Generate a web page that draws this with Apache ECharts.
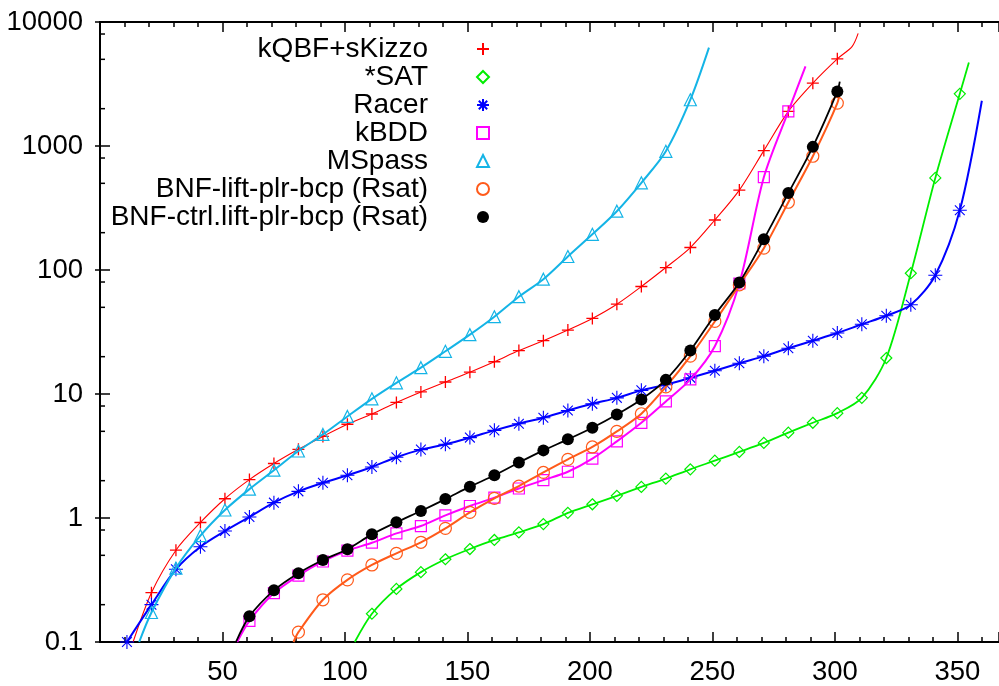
<!DOCTYPE html>
<html><head><meta charset="utf-8">
<script src="https://cdn.jsdelivr.net/npm/echarts@6/dist/echarts.min.js"></script>
<style>html,body{margin:0;padding:0;background:#fff}#c{width:999px;height:686px}</style>
</head><body><div id="c"></div>
<script>
// ---- data ----
const seriesNames = ['kQBF+sKizzo', '*SAT', 'Racer', 'kBDD', 'MSpass', 'BNF-lift-plr-bcp (Rsat)', 'BNF-ctrl.lift-plr-bcp (Rsat)'];
const xTickLabels = [50, 100, 150, 200, 250, 300, 350];
const yTickLabels = [0.1, 1, 10, 100, 1000, 10000];
const yMinorTicks = [0.2, 0.5, 0.8, 2, 5, 8, 20, 50, 80, 200, 500, 800, 2000, 5000, 8000];

const kqbfMarkX = [21,31,41,51,61,71,81,91,101,111,121,131,141,151,161,171,181,191,201,211,221,231,241,251,261,271,281,291,301];
const kqbfMarkY = [0.25,0.55,0.92,1.43,2.04,2.75,3.58,4.55,5.7,6.9,8.55,10.4,12.5,15.0,18.2,22.4,26.9,32.8,40.7,53,73.6,104.7,151.8,253,441,918,1902,3212,5043];
const kqbfExtraX = [13.5, 307, 309.5];
const kqbfExtraY = [0.1, 6340, 8100];

const satMarkX = [111,121,131,141,151,161,171,181,191,201,211,221,231,241,251,261,271,281,291,301,311,321,331,341,351];
const satMarkY = [0.169,0.268,0.366,0.465,0.562,0.665,0.766,0.893,1.10,1.29,1.51,1.78,2.08,2.47,2.9,3.41,4.03,4.88,5.86,7.01,9.31,19.5,94.2,553,2636];
const satExtraX = [104, 354.7];
const satExtraY = [0.1, 4710];

const racerMarkX = [11,21,31,41,51,61,71,81,91,101,111,121,131,141,151,161,171,181,191,201,211,221,231,241,251,261,271,281,291,301,311,321,331,341,351];
const racerMarkY = [0.1,0.2,0.386,0.587,0.785,1.02,1.33,1.64,1.92,2.21,2.58,3.09,3.56,3.93,4.45,5.09,5.76,6.44,7.37,8.33,9.31,10.7,11.9,13.5,15.4,17.7,20.2,23.4,26.9,31.0,36.5,42.8,52.4,90.8,303];
const racerExtraX = [360];
const racerExtraY = [2317];

const kbddMarkX = [61,71,81,91,101,111,121,131,141,151,161,171,181,191,201,211,221,231,241,251,261,271,281];
const kbddMarkY = [0.148,0.248,0.343,0.446,0.546,0.632,0.751,0.861,1.05,1.25,1.46,1.73,2.02,2.36,3.01,4.15,5.86,8.71,13.1,24.3,77.8,560,1902];
const kbddExtraX = [56, 288];
const kbddExtraY = [0.1, 4380];

const mspassMarkX = [21,31,41,51,61,71,81,91,101,111,121,131,141,151,161,171,181,191,201,211,221,231,241];
const mspassMarkY = [0.173,0.394,0.72,1.16,1.71,2.43,3.47,4.72,6.59,9.14,12.3,16.3,22.1,30.1,42.0,60.9,84.3,128.5,194,298,505,906,2361];
const mspassExtraX = [16, 248.6];
const mspassExtraY = [0.1, 6210];

const liftMarkX = [81,91,101,111,121,131,141,151,161,171,181,191,201,211,221,231,241,251,261,271,281,291,301];
const liftMarkY = [0.12,0.219,0.317,0.418,0.519,0.637,0.825,1.11,1.44,1.81,2.33,2.97,3.74,4.99,6.93,11.4,20.2,38.5,75.8,150,352,827,2218];
const liftExtraX = [79, 302];
const liftExtraY = [0.1, 2800];

const ctrlMarkX = [61,71,81,91,101,111,121,131,141,151,161,171,181,191,201,211,221,231,241,251,261,271,281,291,301];
const ctrlMarkY = [0.161,0.261,0.359,0.459,0.560,0.738,0.925,1.14,1.42,1.79,2.21,2.80,3.51,4.31,5.35,6.84,9.04,13.0,22.4,43.4,79.2,177,417,984,2755];
const ctrlExtraX = [55.5, 302];
const ctrlExtraY = [0.1, 3310];

// ---- build ----
function build(mx, my, ex, ey) {
  const pts = [];
  mx.forEach((x, i) => pts.push({ value: [x, my[i]] }));
  ex.forEach((x, i) => pts.push({ value: [x, ey[i]], symbol: 'none' }));
  pts.sort((a, b) => a.value[0] - b.value[0]);
  return pts;
}
const FONT = 'Liberation Sans, Arial, sans-serif';
const T = 'rgba(0,0,0,0)';
const plusPath = 'path://M0,5H10M5,0V10';
const starPath = 'path://M0,5H10M5,0V10M1.5,1.5L8.5,8.5M8.5,1.5L1.5,8.5';

const styles = [
  { color: '#ff0000', lw: 1.1, symbol: plusPath, size: 12, hollow: true, bw: 1.3 },
  { color: '#00ee00', lw: 1.8, symbol: 'diamond', size: 11, hollow: true, bw: 1.2 },
  { color: '#0000ff', lw: 2, symbol: starPath, size: 14, hollow: true, bw: 1.1 },
  { color: '#ff00ff', lw: 2, symbol: 'rect', size: 11, hollow: true, bw: 1.2 },
  { color: '#14b4e6', lw: 2, symbol: 'triangle', size: 12, hollow: true, bw: 1.2 },
  { color: '#ff5a1a', lw: 2, symbol: 'circle', size: 12, hollow: true, bw: 1.2 },
  { color: '#000000', lw: 1.8, symbol: 'circle', size: 12, hollow: false, bw: 0 }
];
const datasets = [
  build(kqbfMarkX, kqbfMarkY, kqbfExtraX, kqbfExtraY),
  build(satMarkX, satMarkY, satExtraX, satExtraY),
  build(racerMarkX, racerMarkY, racerExtraX, racerExtraY),
  build(kbddMarkX, kbddMarkY, kbddExtraX, kbddExtraY),
  build(mspassMarkX, mspassMarkY, mspassExtraX, mspassExtraY),
  build(liftMarkX, liftMarkY, liftExtraX, liftExtraY),
  build(ctrlMarkX, ctrlMarkY, ctrlExtraX, ctrlExtraY)
];

const series = seriesNames.map((name, i) => {
  const s = styles[i];
  return {
    name, type: 'line', data: datasets[i], xAxisIndex: 0, yAxisIndex: 0,
    smooth: 0.3,
    symbol: s.symbol, symbolSize: s.size, showAllSymbol: true,
    lineStyle: { color: s.color, width: s.lw },
    itemStyle: s.hollow ? { color: T, borderColor: s.color, borderWidth: s.bw } : { color: s.color },
    emphasis: { disabled: true }, z: 2 + i
  };
});

series.push({
  type: 'custom', name: 'minor', xAxisIndex: 0, yAxisIndex: 0, silent: true, clip: false, z: 20,
  data: yMinorTicks.map(v => [1, v]),
  renderItem: (params, api) => {
    const p = api.coord([1, api.value(1)]);
    const cs = params.coordSys;
    return { type: 'line', shape: { x1: cs.x, y1: p[1], x2: cs.x + 5, y2: p[1] }, style: { stroke: '#000', lineWidth: 1.5 } };
  }
});

const chart = echarts.init(document.getElementById('c'), null, { renderer: 'canvas' });
const fmtY = v => { const r = +(+v).toPrecision(6); return yTickLabels.includes(r) ? String(r) : ''; };
const fmtX = v => xTickLabels.includes(+v) ? String(v) : '';
chart.setOption({
  animation: false,
  backgroundColor: '#fff',
  grid: { left: 100, right: 0, top: 22, bottom: 42 },
  legend: {
    data: seriesNames, orient: 'vertical', align: 'right',
    right: 465, top: 35, padding: 0, itemGap: 0,
    itemWidth: 100, itemHeight: 15,
    lineStyle: { opacity: 0 },
    textStyle: { fontFamily: FONT, fontSize: 28, color: '#000' },
    selectedMode: false
  },
  xAxis: [
    { type: 'value', min: 0, max: 367, interval: 50, position: 'bottom',
      axisLine: { show: true, lineStyle: { color: '#000', width: 2 } },
      axisTick: { show: true, inside: true, length: 10, lineStyle: { color: '#000', width: 1.5 } },
      minorTick: { show: true, splitNumber: 5, length: 5, lineStyle: { color: '#000', width: 1.5 } },
      axisLabel: { formatter: fmtX, margin: 16, fontFamily: FONT, fontSize: 27.5, color: '#000', showMaxLabel: false },
      splitLine: { show: false } },
    { type: 'value', min: 0, max: 367, interval: 50, position: 'top',
      axisLine: { show: true, lineStyle: { color: '#000', width: 2 } },
      axisTick: { show: true, inside: true, length: 10, lineStyle: { color: '#000', width: 1.5 } },
      minorTick: { show: true, splitNumber: 5, length: 5, lineStyle: { color: '#000', width: 1.5 } },
      axisLabel: { show: false }, splitLine: { show: false } }
  ],
  yAxis: [
    { type: 'log', logBase: 10, min: 0.1, max: 10000, position: 'left',
      axisLine: { show: true, lineStyle: { color: '#000', width: 2 } },
      axisTick: { show: true, inside: true, length: 10, lineStyle: { color: '#000', width: 1.5 } },
      axisLabel: { formatter: fmtY, margin: 17, fontFamily: FONT, fontSize: 27.5, color: '#000' },
      splitLine: { show: false } },
    { type: 'log', logBase: 10, min: 0.1, max: 10000, position: 'right',
      axisLine: { show: true, lineStyle: { color: '#000', width: 2 } },
      axisTick: { show: true, inside: true, length: 5, lineStyle: { color: '#000', width: 1.5 } },
      axisLabel: { show: false }, splitLine: { show: false } }
  ],
  series
});
</script></body></html>
